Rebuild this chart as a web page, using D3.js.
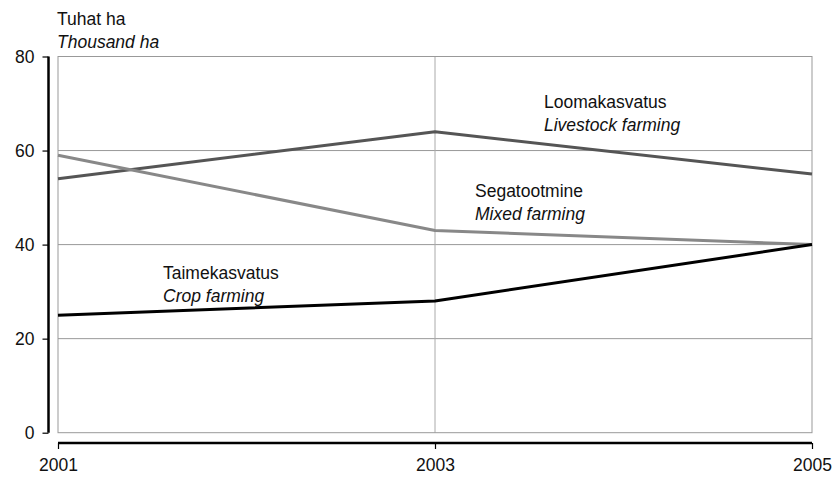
<!DOCTYPE html>
<html><head><meta charset="utf-8">
<script src="https://cdn.jsdelivr.net/npm/d3@7"></script>
<style>body{margin:0;background:#fff}svg{display:block}text{font-family:"Liberation Sans",Arial,sans-serif;font-size:17.5px;fill:#111}</style>
</head><body><svg id="c" width="835" height="477"></svg>
<script>
const years = [2001, 2003, 2005];
const yTicks = [0, 20, 40, 60, 80];
const livestock = [54, 64, 55];
const mixed = [59, 43, 40];
const crop = [25, 28, 40];
const seriesNames = [["Loomakasvatus","Livestock farming"],["Segatootmine","Mixed farming"],["Taimekasvatus","Crop farming"]];
const unitLabel = ["Tuhat ha","Thousand ha"];

const svg = d3.select("#c");
const x = d3.scalePoint().domain(years).range([58, 812]);
const y = d3.scaleLinear().domain([0, 80]).range([432.7, 56.5]);

// gridlines
svg.append("g").selectAll("line").data([20,40,60]).join("line")
  .attr("x1",58).attr("x2",812).attr("y1",d=>y(d)).attr("y2",d=>y(d))
  .attr("stroke","#999").attr("stroke-width",1);
svg.append("line").attr("x1",x(2003)).attr("x2",x(2003)).attr("y1",y(80)).attr("y2",y(0))
  .attr("stroke","#aaa").attr("stroke-width",1);
svg.append("rect").attr("x",58).attr("y",y(80)).attr("width",812-58).attr("height",y(0)-y(80))
  .attr("fill","none").attr("stroke","#999").attr("stroke-width",1);

// y axis
const ya = svg.append("g").attr("transform","translate(48.5,0)")
  .call(d3.axisLeft(y).tickValues(yTicks).tickSize(6).tickPadding(8));
ya.select(".domain").attr("stroke","#000").attr("stroke-width",2.5).attr("d",`M0,${y(80)}V${y(0)}`);
ya.selectAll(".tick line").attr("stroke","#000").attr("stroke-width",1.2);
ya.selectAll(".tick text").style("font-size","17.5px").attr("fill","#111").attr("font-family","Liberation Sans, Arial, sans-serif");

// x axis
const xa = svg.append("g").attr("transform","translate(0,443)")
  .call(d3.axisBottom(x).tickSize(6).tickPadding(10));
xa.select(".domain").attr("stroke","#000").attr("stroke-width",2.5).attr("d",`M${x(2001)},0H${x(2005)}`);
xa.selectAll(".tick line").attr("stroke","#000").attr("stroke-width",1.2);
xa.selectAll(".tick text").style("font-size","17.5px").attr("fill","#111").attr("font-family","Liberation Sans, Arial, sans-serif");

// lines
const line = d3.line().x((d,i)=>x(years[i])).y(d=>y(d));
const series = [{v:livestock,c:"#555"},{v:mixed,c:"#888"},{v:crop,c:"#000"}];
series.forEach(s=>{
  svg.append("path").datum(s.v).attr("d",line).attr("fill","none")
    .attr("stroke",s.c).attr("stroke-width",3).attr("stroke-linejoin","round");
});

// labels
function lbl(xp, yp, pair){
  svg.append("text").attr("x",xp).attr("y",yp).text(pair[0]);
  svg.append("text").attr("x",xp).attr("y",yp+23).attr("font-style","italic").text(pair[1]);
}
lbl(57, 25, unitLabel);
lbl(544, 108, seriesNames[0]);
lbl(475, 197, seriesNames[1]);
lbl(163, 279, seriesNames[2]);
</script></body></html>
